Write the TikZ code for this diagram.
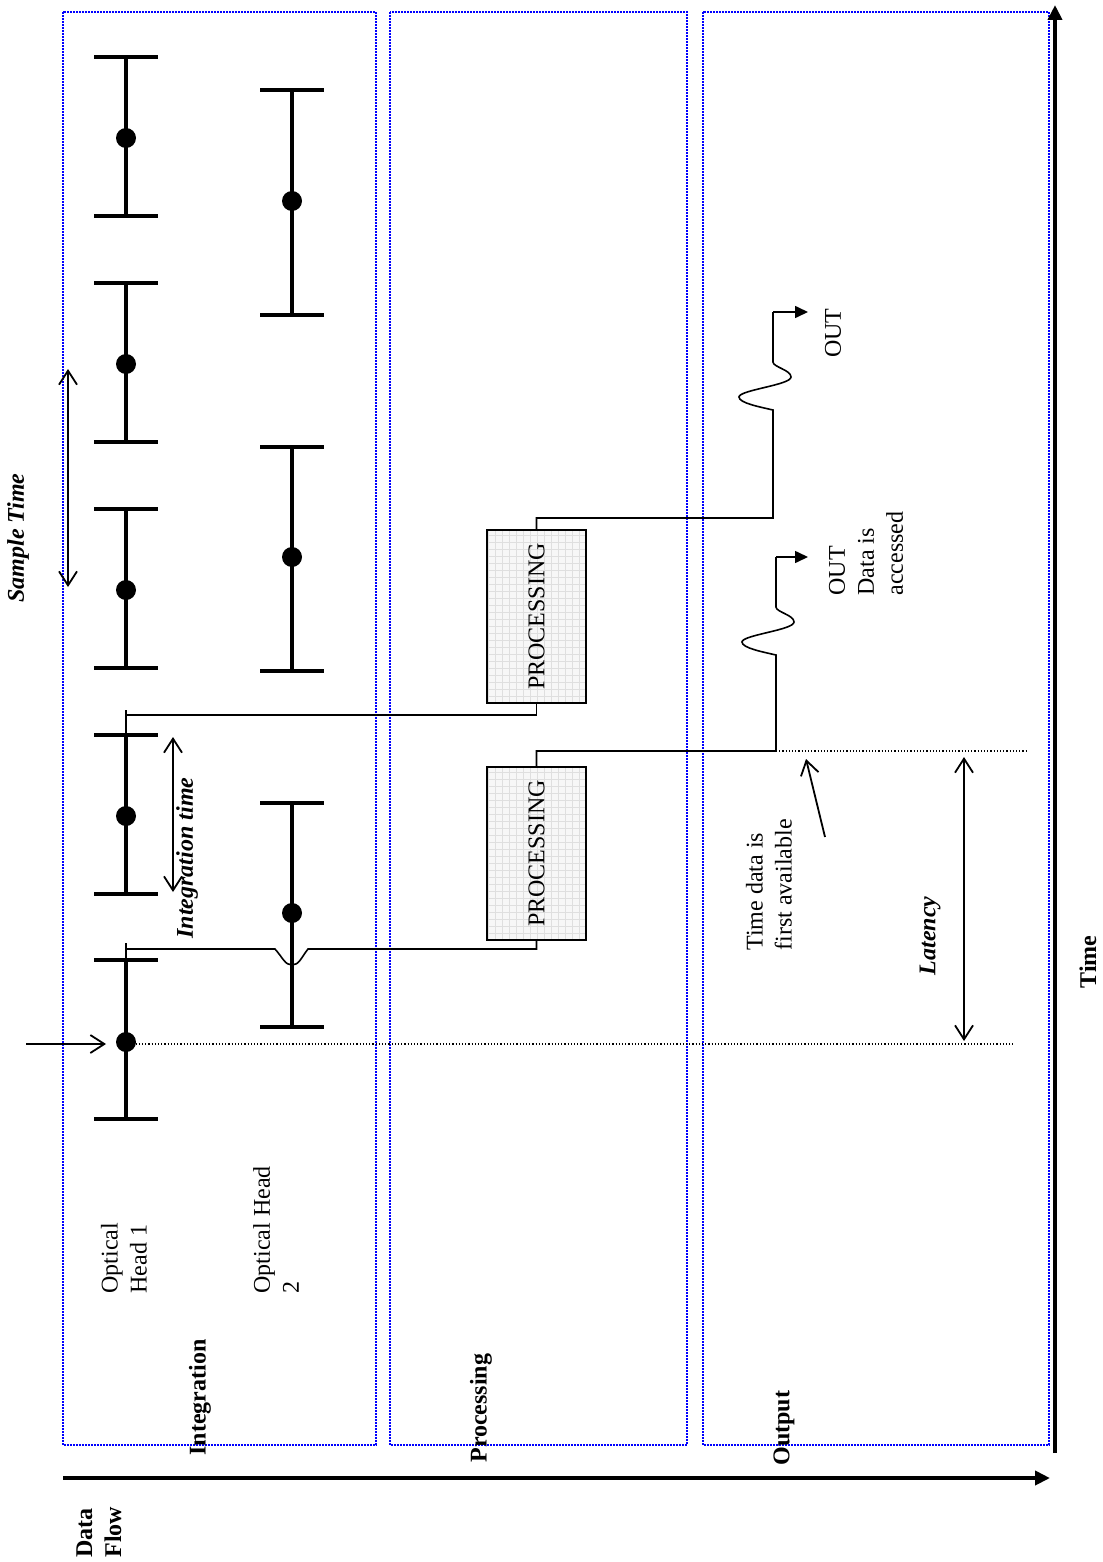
\documentclass[12pt,tikz,border=0pt]{standalone}
\usepackage{fontspec}
\setmainfont{Liberation Serif}
\usetikzlibrary{positioning,arrows.meta,calc}

\pgfkeys{tikz/lane/.style={draw=blue,line width=0.8pt,dash pattern=on 0.8pt off 0.7pt}}
\pgfkeys{tikz/errbar/.style={line width=2pt}}
\pgfkeys{tikz/wire/.style={line width=0.8pt}}
\pgfkeys{tikz/axis/.style={line width=2pt,-{Triangle[length=7.5pt,width=7pt]}}}
\pgfkeys{tikz/span/.style={line width=0.9pt,>={Straight Barb[length=7pt,width=9pt]},<->}}
\pgfkeys{tikz/vtext/.style={rotate=90,inner sep=0pt,align=left}}
\pgfkeys{tikz/proc/.style={rotate=90,draw,line width=0.8pt,minimum width=86.5pt,minimum height=49.5pt,inner sep=1pt,fill=gray!6,
      path picture={\draw[gray!25,line width=0.4pt,step=3.5pt] (path picture bounding box.south west) grid (path picture bounding box.north east);}}}

\begin{document}
\begin{tikzpicture}[x=0.5pt,y=-0.5pt]
	\useasboundingbox (0,0) rectangle (1102,1562);

	\draw[lane] (63,12) rectangle (376,1445);
	\draw[lane] (390,12) rectangle (687,1445);
	\draw[lane] (703,12) rectangle (1049,1445);

	\coordinate (flow0) at (63,1478);
	\coordinate (flow1) at (1050,1478);
	\coordinate (time0) at (1055,1453);
	\coordinate (time1) at (1055,5);
	\draw[axis] (flow0) -- (flow1);
	\draw[axis] (time0) -- (time1);

	\node[vtext,font=\bfseries,anchor=west] (dataflow) at (99,1558) {Data\\Flow};
	\node[vtext,font=\bfseries,anchor=west] (integ) at (200,1456) {Integration};
	\node[vtext,font=\bfseries,anchor=west] (proclane) at (481,1463) {Processing};
	\node[vtext,font=\bfseries,anchor=west] (outlane) at (784,1466) {Output};
	\node[vtext,font=\bfseries] (timelbl) at (1088,962) {Time};
	\node[vtext,anchor=west] (head1) at (124,1294) {Optical\\Head 1};
	\node[vtext,anchor=west] (head2) at (276,1294) {Optical Head\\2};

	% optical head 1
	\draw[errbar] (94,57) -- (158,57) (126,57) -- (126,216) (94,216) -- (158,216);
	\draw[errbar] (94,283) -- (158,283) (126,283) -- (126,442) (94,442) -- (158,442);
	\draw[errbar] (94,509) -- (158,509) (126,509) -- (126,668) (94,668) -- (158,668);
	\draw[errbar] (94,735) -- (158,735) (126,735) -- (126,894) (94,894) -- (158,894);
	\draw[errbar] (94,960) -- (158,960) (126,960) -- (126,1119) (94,1119) -- (158,1119);
	\fill (126,138) circle (5pt) (126,364) circle (5pt) (126,590) circle (5pt) (126,816) circle (5pt);
	\fill (126,1042) circle (5pt);

	% optical head 2
	\draw[errbar] (260,90) -- (324,90) (292,90) -- (292,315) (260,315) -- (324,315);
	\draw[errbar] (260,447) -- (324,447) (292,447) -- (292,671) (260,671) -- (324,671);
	\draw[errbar] (260,803) -- (324,803) (292,803) -- (292,1027) (260,1027) -- (324,1027);
	\fill (292,201) circle (5pt) (292,557) circle (5pt) (292,913) circle (5pt);

	\coordinate (h1a) at (126,960);
	\coordinate (h1a-tap) at (126,949);
	\coordinate (h1a-dot) at (126,1044);
	\coordinate (h1b) at (126,735);
	\coordinate (h1b-tap) at (126,715);
	\coordinate (input) at (26,1044);

	\node[proc] (proc1) at (536.5,616.5) {PROCESSING};
	\node[proc] (proc2) at (536.5,853.5) {PROCESSING};

	\draw[wire] (h1a) -- (126,943);
	\draw[wire] (h1a-tap) -- (275,949) .. controls (283,958) and (285,965) .. (292,965) .. controls (299,965) and (301,958) .. (308,949) -| (proc2.west);
	\draw[wire] (h1b) -- (126,710);
	\draw[wire] (h1b-tap) -| (proc1.west);

	\coordinate (out1) at (808,312);
	\coordinate (out2) at (808,557);
	\coordinate (avail) at (776,751);

	\draw[wire] (proc1.east) |- (773,518) -- (773,410) .. controls (760,407) and (739,403) .. (739,397) .. controls (739,390) and (791,385) .. (791,377) .. controls (791,370) and (773,367) .. (773,362) -- (773,312);
	\draw[wire,-{Triangle[length=6.5pt,width=6pt]}] (773,312) -- (out1);
	\draw[wire] (proc2.east) |- (avail) -- (776,655) .. controls (763,652) and (742,648) .. (742,642) .. controls (742,635) and (794,630) .. (794,622) .. controls (794,615) and (776,612) .. (776,607) -- (776,557);
	\draw[wire,-{Triangle[length=6.5pt,width=6pt]}] (776,557) -- (out2);

	\node[vtext] (out1txt) at (833,333) {OUT};
	\node[vtext,anchor=west] (out2txt) at (866,596) {OUT\\Data is\\accessed};

	\draw[densely dotted,line width=0.6pt] (avail) -- (1028,751);
	\draw[densely dotted,line width=0.6pt] (h1a-dot) -- (1013,1044);

	\draw[line width=0.9pt,-{Straight Barb[length=7pt,width=9pt]}] (input) -- (106,1044);
	\draw[line width=0.9pt,-{Straight Barb[length=7pt,width=9pt]}] (825,837) -- (806,759);
	\node[vtext,anchor=west] (availtxt) at (769,951) {Time data is\\first available};

	\draw[span] (68,369) -- (68,587);
	\draw[span] (173,737) -- (173,892);
	\draw[span] (964,757) -- (964,1041);
	\node[vtext,font=\bfseries\itshape] (sample) at (18,538) {Sample Time};
	\node[vtext,font=\bfseries\itshape] (inttime) at (187,858) {Integration time};
	\node[vtext,font=\bfseries\itshape] (latency) at (930,936) {Latency};
\end{tikzpicture}
\end{document}
